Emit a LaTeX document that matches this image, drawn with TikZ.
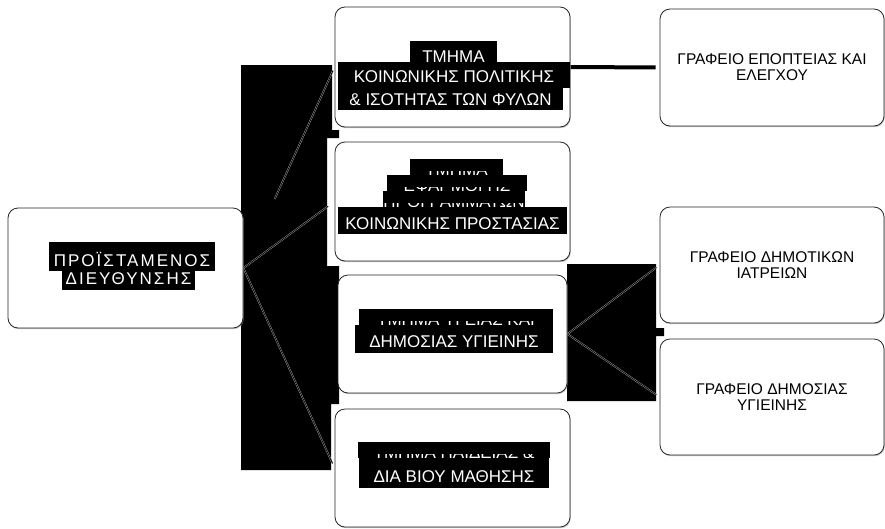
\documentclass[tikz,border=0pt]{standalone}
\usepackage{fontspec}
\setmainfont{Liberation Sans}
\usetikzlibrary{positioning, shadows}
\pgfdeclarelayer{back}
\pgfsetlayers{back,main}

\begin{document}
\begin{tikzpicture}[x=1pt, y=-1pt,
    box/.style={draw=black!85, line width=.8pt, rounded corners=10pt, fill=white,
        drop shadow={shadow xshift=.8pt, shadow yshift=-1.2pt, fill=black!45, opacity=.5}},
    office/.style={box, align=center, font=\fontsize{15.5}{16}\selectfont},
    hl/.style={fill=black, text=white, inner sep=0pt, font=\fontsize{17}{17}\selectfont},
    head/.style={hl, font=\fontsize{17}{17}\selectfont\addfontfeature{LetterSpace=12}},
    cut/.style={hl, text height=16pt, text depth=0pt},
    link/.style={draw=white!70!black, line width=.4pt, double=black, double distance=.8pt}]
    \useasboundingbox (0,0) rectangle (885,528);

    \node[box, minimum width=235pt, minimum height=120pt] (root) at (125.5,268) {};
    \node[box, minimum width=235pt, minimum height=120pt] (m1) at (452.5,67) {};
    \node[box, minimum width=235pt, minimum height=119pt] (m2) at (452.5,201.5) {};
    \node[box, minimum width=229pt, minimum height=118pt] (m3) at (452.5,334) {};
    \node[box, minimum width=235pt, minimum height=118pt] (m4) at (452.5,468) {};
    \node[office, minimum width=224pt, minimum height=117pt] (r1) at (772,67.5)
    {ΓΡΑΦΕΙΟ ΕΠΟΠΤΕΙΑΣ ΚΑΙ\\ΕΛΕΓΧΟΥ};
    \node[office, minimum width=224pt, minimum height=116pt] (r2) at (772,265)
    {ΓΡΑΦΕΙΟ ΔΗΜΟΤΙΚΩΝ\\ΙΑΤΡΕΙΩΝ};
    \node[office, minimum width=224pt, minimum height=116pt] (r3) at (772,397)
    {ΓΡΑΦΕΙΟ ΔΗΜΟΣΙΑΣ\\ΥΓΙΕΙΝΗΣ};

    \begin{pgfonlayer}{back}
        \fill (241,65) -- (332,65) -- (332,130) -- (339,130) -- (339,138) -- (327,138)
            -- (327,266) -- (339,266) -- (339,404) -- (331,404) -- (331,470) -- (241,470) -- cycle;
        \fill (567,264) rectangle (656,401) (656,328) rectangle (664,336);
        \draw[link, shorten <=76pt, shorten >=4pt] (root.east) -- (m1.west);
        \draw[link, shorten >=8pt] (root.east) -- (m2.west);
        \draw[link, shorten >=5pt] (root.east) -- (m4.west);
        \draw[link, shorten >=4pt] (m3.east) -- (r2.west);
        \draw[link, shorten >=4pt] (m3.east) -- (r3.west);
        \draw[line width=4pt, shorten >=4pt] (m1.east) -- (r1.west);
    \end{pgfonlayer}

    \node[head, minimum width=166pt, text height=24pt, text depth=5pt] (root1) at (132,256.5) {ΠΡΟΪΣΤΑΜΕΝΟΣ};
    \node[head, minimum width=133pt, text height=13pt, text depth=6pt] (root2) at (128.5,280.5) {ΔΙΕΥΘΥΝΣΗΣ};

    \node[hl, minimum width=87pt, text height=21pt, text depth=0pt] (m11) at (453.5,51.5) {ΤΜΗΜΑ};
    \node[hl, minimum width=232pt, text height=20pt, text depth=6pt] (m12) at (454,75) {ΚΟΙΝΩΝΙΚΗΣ ΠΟΛΙΤΙΚΗΣ};
    \node[hl, minimum width=225pt, text height=17pt, text depth=5pt] (m13) at (450.5,99) {\& ΙΣΟΤΗΤΑΣ ΤΩΝ ΦΥΛΩΝ};

    \node[cut, minimum width=93pt] (m21) at (456.5,167) {ΤΜΗΜΑ};
    \fill (m21.north west) rectangle ([yshift=4pt]m21.south east);
    \node[cut, minimum width=140pt] (m22) at (457,183) {ΕΦΑΡΜΟΓΗΣ};
    \fill (m22.north west) rectangle ([yshift=4pt]m22.south east);
    \node[cut, minimum width=138pt] (m23) at (454,199) {ΠΡΟΓΡΑΜΜΑΤΩΝ};
    \fill (m23.north west) rectangle ([yshift=4pt]m23.south east);
    \node[hl, minimum width=229pt, text height=22pt, text depth=5pt] (m24) at (452.5,220.5) {ΚΟΙΝΩΝΙΚΗΣ ΠΡΟΣΤΑΣΙΑΣ};

    \node[cut, minimum width=194pt] (m31) at (456,317) {ΤΜΗΜΑ ΥΓΕΙΑΣ ΚΑΙ};
    \fill (m31.north west) rectangle ([yshift=4pt]m31.south east);
    \node[hl, minimum width=198pt, text height=22pt, text depth=6pt] (m32) at (454,339) {ΔΗΜΟΣΙΑΣ ΥΓΙΕΙΝΗΣ};

    \node[cut, minimum width=192pt] (m41) at (454,450) {ΤΜΗΜΑ ΠΑΙΔΕΙΑΣ \&};
    \fill (m41.north west) rectangle ([yshift=4pt]m41.south east);
    \node[hl, minimum width=190pt, text height=24.5pt, text depth=5.5pt] (m42) at (454,473) {ΔΙΑ ΒΙΟΥ ΜΑΘΗΣΗΣ};
\end{tikzpicture}
\end{document}
